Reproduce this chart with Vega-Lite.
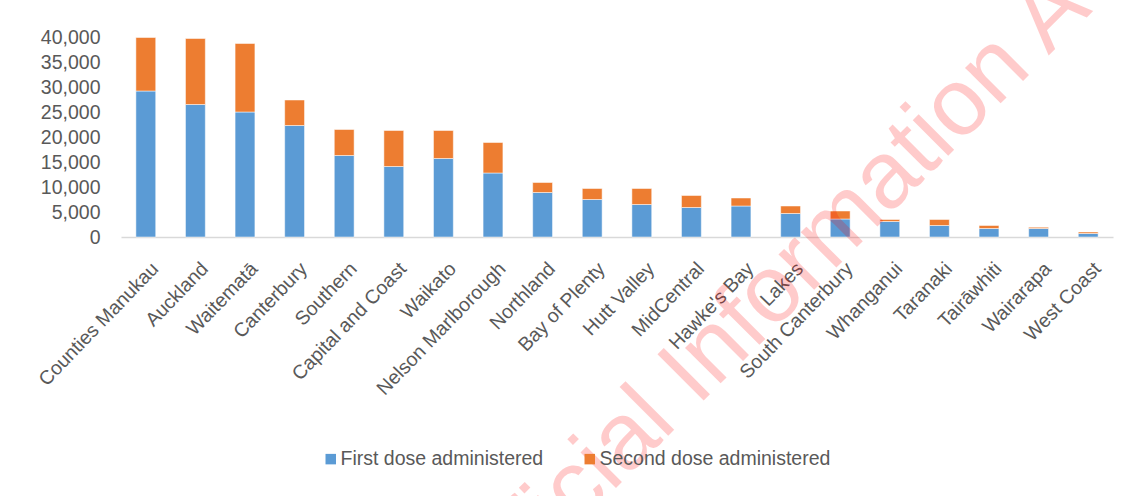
{
  "$schema": "https://vega.github.io/schema/vega-lite/v6.json",
  "autosize": {"type": "none"},
  "width": 992,
  "height": 200,
  "padding": {"left": 121, "top": 37, "right": 20, "bottom": 259},
  "background": "white",
  "config": {
    "view": {"stroke": null},
    "font": "Liberation Sans",
    "axisX": {
      "labelAngle": -46,
      "labelAlign": "right",
      "labelBaseline": "top",
      "labelOffset": 3,
      "labelPadding": 22,
      "labelFontSize": 19.5,
      "labelColor": "#595959",
      "labelFont": "Liberation Sans",
      "labelOverlap": false,
      "labelBound": false,
      "labelFlush": false,
      "labelLimit": 0,
      "ticks": false,
      "domainColor": "#D9D9D9",
      "domainWidth": 1.5,
      "grid": false
    },
    "axisY": {
      "domain": false,
      "ticks": false,
      "grid": false,
      "labelOverlap": false,
      "labelFlush": false,
      "labelPadding": 21,
      "labelFontSize": 19.5,
      "labelColor": "#595959",
      "labelFont": "Liberation Sans"
    }
  },
  "datasets": {
    "doses": [
      {"dhb": "Counties Manukau", "dose": "First dose administered", "value": 29200},
      {"dhb": "Counties Manukau", "dose": "Second dose administered", "value": 10700},
      {"dhb": "Auckland", "dose": "First dose administered", "value": 26500},
      {"dhb": "Auckland", "dose": "Second dose administered", "value": 13200},
      {"dhb": "Waitematā", "dose": "First dose administered", "value": 25000},
      {"dhb": "Waitematā", "dose": "Second dose administered", "value": 13700},
      {"dhb": "Canterbury", "dose": "First dose administered", "value": 22300},
      {"dhb": "Canterbury", "dose": "Second dose administered", "value": 5100},
      {"dhb": "Southern", "dose": "First dose administered", "value": 16300},
      {"dhb": "Southern", "dose": "Second dose administered", "value": 5200},
      {"dhb": "Capital and Coast", "dose": "First dose administered", "value": 14100},
      {"dhb": "Capital and Coast", "dose": "Second dose administered", "value": 7200},
      {"dhb": "Waikato", "dose": "First dose administered", "value": 15700},
      {"dhb": "Waikato", "dose": "Second dose administered", "value": 5600},
      {"dhb": "Nelson Marlborough", "dose": "First dose administered", "value": 12800},
      {"dhb": "Nelson Marlborough", "dose": "Second dose administered", "value": 6100},
      {"dhb": "Northland", "dose": "First dose administered", "value": 8900},
      {"dhb": "Northland", "dose": "Second dose administered", "value": 2000},
      {"dhb": "Bay of Plenty", "dose": "First dose administered", "value": 7500},
      {"dhb": "Bay of Plenty", "dose": "Second dose administered", "value": 2200},
      {"dhb": "Hutt Valley", "dose": "First dose administered", "value": 6500},
      {"dhb": "Hutt Valley", "dose": "Second dose administered", "value": 3200},
      {"dhb": "MidCentral", "dose": "First dose administered", "value": 5900},
      {"dhb": "MidCentral", "dose": "Second dose administered", "value": 2400},
      {"dhb": "Hawke's Bay", "dose": "First dose administered", "value": 6200},
      {"dhb": "Hawke's Bay", "dose": "Second dose administered", "value": 1600},
      {"dhb": "Lakes", "dose": "First dose administered", "value": 4700},
      {"dhb": "Lakes", "dose": "Second dose administered", "value": 1500},
      {"dhb": "South Canterbury", "dose": "First dose administered", "value": 3600},
      {"dhb": "South Canterbury", "dose": "Second dose administered", "value": 1600},
      {"dhb": "Whanganui", "dose": "First dose administered", "value": 3100},
      {"dhb": "Whanganui", "dose": "Second dose administered", "value": 400},
      {"dhb": "Taranaki", "dose": "First dose administered", "value": 2300},
      {"dhb": "Taranaki", "dose": "Second dose administered", "value": 1200},
      {"dhb": "Tairāwhiti", "dose": "First dose administered", "value": 1700},
      {"dhb": "Tairāwhiti", "dose": "Second dose administered", "value": 600},
      {"dhb": "Wairarapa", "dose": "First dose administered", "value": 1700},
      {"dhb": "Wairarapa", "dose": "Second dose administered", "value": 250},
      {"dhb": "West Coast", "dose": "First dose administered", "value": 700},
      {"dhb": "West Coast", "dose": "Second dose administered", "value": 300}
    ],
    "watermark": [
      {"label": "Official Information Act"}
    ]
  },
  "layer": [
    {
      "data": {"name": "doses"},
      "mark": {"type": "bar", "stroke": "white", "strokeWidth": 0.5},
      "encoding": {
        "x": {
          "field": "dhb",
          "type": "nominal",
          "title": null,
          "scale": {
            "domain": ["Counties Manukau", "Auckland", "Waitematā", "Canterbury", "Southern", "Capital and Coast", "Waikato", "Nelson Marlborough", "Northland", "Bay of Plenty", "Hutt Valley", "MidCentral", "Hawke's Bay", "Lakes", "South Canterbury", "Whanganui", "Taranaki", "Tairāwhiti", "Wairarapa", "West Coast"],
            "paddingInner": 0.6,
            "paddingOuter": 0.3
          },
          "axis": {"title": null}
        },
        "y": {
          "field": "value",
          "type": "quantitative",
          "title": null,
          "stack": "zero",
          "scale": {"domain": [0, 40000], "nice": false},
          "axis": {
            "title": null,
            "values": [0, 5000, 10000, 15000, 20000, 25000, 30000, 35000, 40000],
            "format": ",d"
          }
        },
        "color": {
          "field": "dose",
          "type": "nominal",
          "title": null,
          "scale": {
            "domain": ["First dose administered", "Second dose administered"],
            "range": ["#5B9BD5", "#ED7D31"]
          },
          "legend": {
            "orient": "none",
            "direction": "horizontal",
            "legendX": 200,
            "legendY": 412,
            "symbolType": "square",
            "symbolSize": 110,
            "symbolStrokeWidth": 0,
            "labelFontSize": 19.5,
            "labelColor": "#595959",
            "labelFont": "Liberation Sans",
            "labelLimit": 0,
            "labelOffset": 0,
            "columnPadding": 36
          }
        },
        "order": {"field": "dose", "sort": "ascending"}
      }
    },
    {
      "data": {"name": "watermark"},
      "mark": {
        "type": "text",
        "angle": -45,
        "align": "center",
        "baseline": "alphabetic",
        "fontSize": 95,
        "font": "Liberation Sans",
        "fill": "#FF0000",
        "opacity": 0.2
      },
      "encoding": {
        "x": {"datum": "Lakes", "type": "nominal", "bandPosition": 1.48, "axis": {"title": null}},
        "y": {
          "datum": -11400,
          "type": "quantitative",
          "scale": {"domain": [0, 40000], "nice": false},
          "axis": {
            "title": null,
            "values": [0, 5000, 10000, 15000, 20000, 25000, 30000, 35000, 40000],
            "format": ",d"
          }
        },
        "text": {"field": "label", "type": "nominal"}
      }
    }
  ]
}
